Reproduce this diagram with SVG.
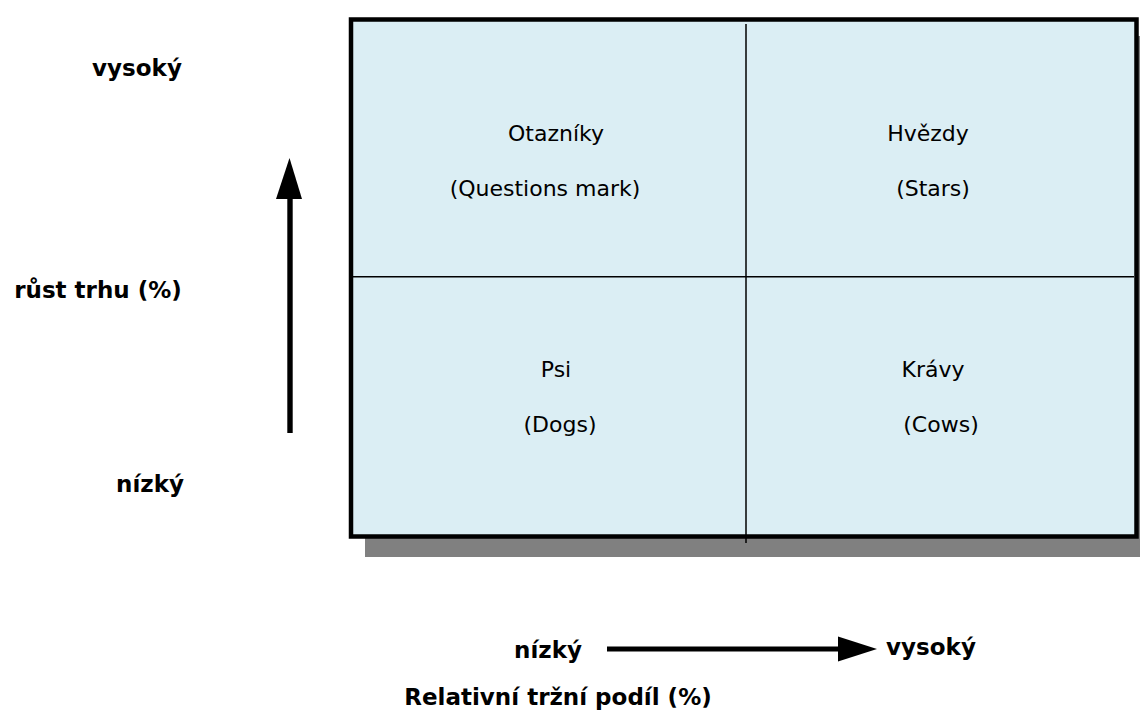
<svg xmlns="http://www.w3.org/2000/svg" width="1140" height="712" viewBox="0 0 1140 712">
<style>
.lbl{font-family:"DejaVu Sans",Verdana,sans-serif;font-size:22px;fill:#000;text-anchor:middle}
.ax{font-family:"DejaVu Sans",Verdana,sans-serif;font-size:23px;font-weight:bold;fill:#000;text-anchor:middle}
</style>
<rect width="1140" height="712" fill="#fff"/>
<g id="matrix">
<rect x="365" y="36" width="790" height="521" fill="#808080"/>
<rect x="351" y="19.5" width="785.5" height="517" fill="#dbeef4" stroke="#000" stroke-width="4.5"/>
<line x1="746" y1="24" x2="746" y2="543" stroke="#000" stroke-width="1.5"/>
<line x1="353" y1="276.7" x2="1134" y2="276.7" stroke="#000" stroke-width="1.5"/>
</g>
<g id="q1"><text class="lbl" x="556" y="141">Otazníky</text><text class="lbl" x="545" y="196">(Questions mark)</text></g>
<g id="q2"><text class="lbl" x="928" y="141">Hvězdy</text><text class="lbl" x="933" y="196">(Stars)</text></g>
<g id="q3"><text class="lbl" x="556" y="377">Psi</text><text class="lbl" x="560" y="432">(Dogs)</text></g>
<g id="q4"><text class="lbl" x="933" y="377">Krávy</text><text class="lbl" x="941" y="432">(Cows)</text></g>
<g id="connectors">
<rect x="287.3" y="196" width="5.4" height="237" fill="#000"/>
<polygon points="289.5,158 276,199 302,199" fill="#000"/>
<rect x="607" y="646.5" width="235" height="5" fill="#000"/>
<polygon points="877,649 838,636.5 838,661.5" fill="#000"/>
</g>
<g id="labels">
<text class="ax" x="137" y="76">vysoký</text>
<text class="ax" x="98" y="298">růst trhu (%)</text>
<text class="ax" x="150" y="492">nízký</text>
<text class="ax" x="548" y="658">nízký</text>
<text class="ax" x="931" y="655">vysoký</text>
<text class="ax" x="558" y="705">Relativní tržní podíl (%)</text>
</g>
</svg>
